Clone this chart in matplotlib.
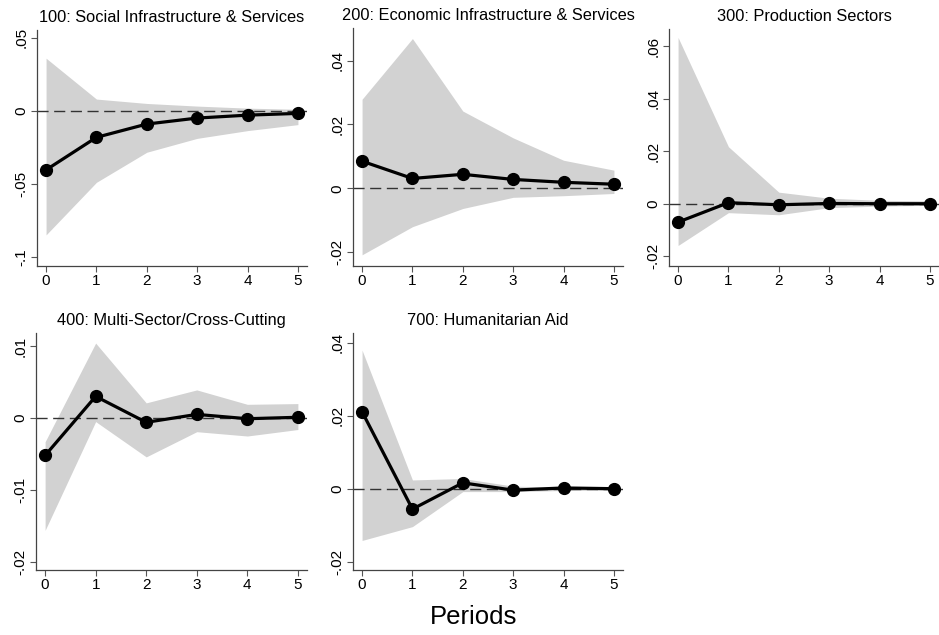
import matplotlib
matplotlib.use('Agg')
import matplotlib.pyplot as plt
import numpy as np

plt.rcParams['font.family'] = ['Liberation Sans', 'DejaVu Sans']

# impulse responses by sector, periods 0-5
periods = [0, 1, 2, 3, 4, 5]

titles = ['100: Social Infrastructure & Services',
          '200: Economic Infrastructure & Services',
          '300: Production Sectors',
          '400: Multi-Sector/Cross-Cutting',
          '700: Humanitarian Aid']

irf_100 = [-0.0405, -0.0182, -0.0091, -0.0050, -0.0030, -0.0018]
lo_100 = [-0.0850, -0.0490, -0.0284, -0.0189, -0.0136, -0.0095]
hi_100 = [0.0360, 0.0080, 0.0050, 0.0032, 0.0018, 0.0010]

irf_200 = [0.0085, 0.0031, 0.0044, 0.0028, 0.0019, 0.0013]
lo_200 = [-0.0208, -0.0120, -0.0063, -0.0028, -0.0023, -0.0016]
hi_200 = [0.0279, 0.0469, 0.0242, 0.0158, 0.0088, 0.0057]

irf_300 = [-0.0070, 0.0004, -0.0004, 0.0001, 0.0000, 0.0000]
lo_300 = [-0.0159, -0.0034, -0.0042, -0.0015, -0.0009, -0.0006]
hi_300 = [0.0633, 0.0217, 0.0044, 0.0021, 0.0013, 0.0011]

irf_400 = [-0.0052, 0.0030, -0.0006, 0.0005, -0.0001, 0.0001]
lo_400 = [-0.0156, -0.0005, -0.0054, -0.0019, -0.0025, -0.0016]
hi_400 = [-0.0033, 0.0104, 0.0021, 0.0039, 0.0019, 0.0020]

irf_700 = [0.0211, -0.0056, 0.0016, -0.0004, 0.0002, 0.0000]
lo_700 = [-0.0142, -0.0104, -0.0008, -0.0008, -0.0005, -0.0004]
hi_700 = [0.0380, 0.0024, 0.0028, 0.0007, 0.0004, 0.0003]

yticks_100 = [-0.1, -0.05, 0, 0.05]
yticks_200 = [-0.02, 0, 0.02, 0.04]
yticks_300 = [-0.02, 0, 0.02, 0.04, 0.06]
yticks_400 = [-0.02, -0.01, 0, 0.01]
yticks_700 = [-0.02, 0, 0.02, 0.04]

W, H = 939, 635
fig = plt.figure(figsize=(W / 100, H / 100), dpi=100)

# pixel boxes: left, top, right, bottom
boxes = [(37, 30, 307, 266), (353, 28, 623, 266), (669, 29, 939, 266),
         (36, 333, 307, 570), (353, 333, 623, 570)]
ylims = [(-0.1063, 0.0553), (-0.0243, 0.0502), (-0.0237, 0.0665),
         (-0.0211, 0.0118), (-0.0223, 0.0427)]

series = [(irf_100, lo_100, hi_100, yticks_100),
          (irf_200, lo_200, hi_200, yticks_200),
          (irf_300, lo_300, hi_300, yticks_300),
          (irf_400, lo_400, hi_400, yticks_400),
          (irf_700, lo_700, hi_700, yticks_700)]


def fmt(v):
    if v == 0:
        return '0'
    s = ('%g' % v).replace('0.', '.')
    return s


for i, (irf, lo, hi, yt) in enumerate(series):
    l, t, r, b = boxes[i]
    ax = fig.add_axes([l / W, 1 - b / H, (r - l) / W, (b - t) / H])
    ax.fill_between(periods, lo, hi, color='#d2d2d2', lw=0, zorder=1)
    ax.axhline(0, color='#333333', lw=1.0, dashes=(8, 4), zorder=2)
    ax.plot(periods, irf, color='black', lw=2.3, marker='o', ms=8.5, zorder=3)
    ax.set_xlim(-0.18, 5.18)
    ax.set_ylim(*ylims[i])
    ax.set_xticks(periods)
    ax.set_yticks(yt)
    ax.set_yticklabels([fmt(v) for v in yt], rotation=90, va='center')
    ax.tick_params(labelsize=11, length=4, width=0.8, color='#555555', pad=2)
    for s in ['top', 'right']:
        ax.spines[s].set_visible(False)
    for s in ['left', 'bottom']:
        ax.spines[s].set_color('#444444')
        ax.spines[s].set_linewidth(0.9)
    ax.set_title(titles[i], fontsize=11.8, pad=6)

fig.text(474 / W, 1 - 617 / H, 'Periods', fontsize=18.5, ha='center', va='center')

fig.savefig('out.png', dpi=100)
